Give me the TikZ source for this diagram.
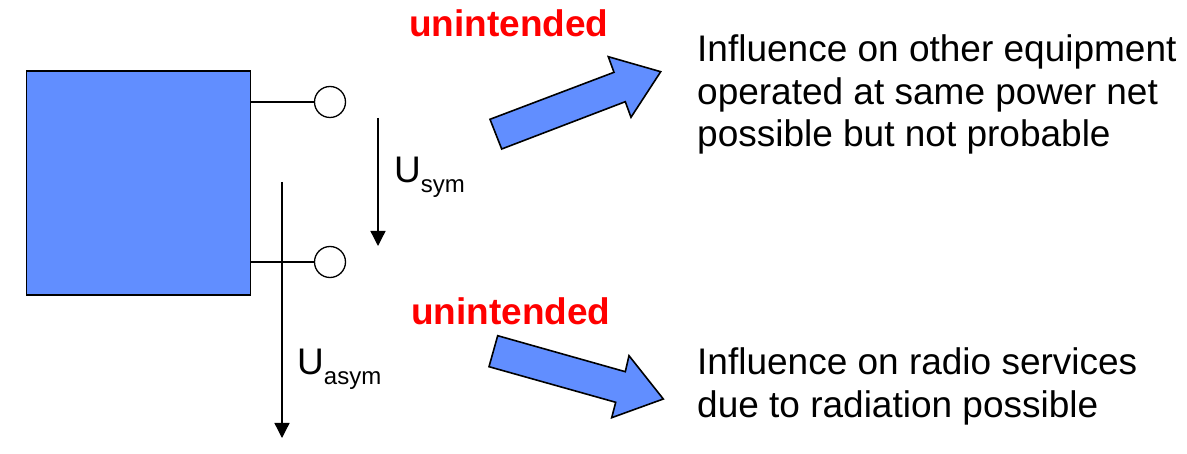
\documentclass[tikz,border=0pt]{standalone}
\usepackage{fontspec}
\setmainfont{Liberation Sans}
\usetikzlibrary{arrows.meta}
\definecolor{boxblue}{RGB}{97,142,255}
\definecolor{warnred}{RGB}{255,0,0}
\tikzset{
  bigtext/.style={inner sep=0pt, anchor=base west, font=\fontsize{37}{42.5}\selectfont},
  redtext/.style={bigtext, text=warnred, font=\fontsize{37}{42.5}\selectfont\bfseries},
  terminal/.style={circle, draw, fill=white, minimum size=31pt, inner sep=0pt, line width=1.3pt},
  wire/.style={line width=1.3pt},
  voltarrow/.style={line width=1.3pt, -{Triangle[length=15pt,width=15pt]}},
  blockarrow/.style={draw, fill=boxblue, line width=1.6pt, line join=miter},
}
\newcommand{\subtxt}[1]{\raisebox{-10pt}{\fontsize{24}{24}\selectfont #1}}
\begin{document}
\begin{tikzpicture}[x=1pt,y=-1pt]
\useasboundingbox (0,0) rectangle (1187,454);
% device box
\node[draw, fill=boxblue, line width=1.8pt, minimum width=224pt, minimum height=224pt, inner sep=0pt] (box) at (138.5,183) {};
% terminals
\node[terminal] (t1) at (330,102) {};
\node[terminal] (t2) at (330,262) {};
\draw[wire] (box.east |- t1) -- (t1.west);
\draw[wire] (box.east |- t2) -- (t2.west);
% voltage arrows
\coordinate (s1) at (378,118);
\coordinate (s2) at (378,246);
\draw[voltarrow] (s1) -- (s2);
\coordinate (a1) at (282,182);
\coordinate (a2) at (282,438);
\draw[voltarrow] (a1) -- (a2);
\node[bigtext] (usym) at (394,183) {U\subtxt{sym}};
\node[bigtext] (uasym) at (297,375) {U\subtxt{asym}};
% block arrows
\path[blockarrow] (490,119.3) -- (614,72.3) -- (608.3,56.7) -- (660.7,71.7) -- (631,117.3) -- (625.3,101.7) -- (501.7,149) -- cycle;
\path[blockarrow] (497.7,335.7) -- (625.3,371.7) -- (629,355.7) -- (663.3,399) -- (611.7,417.7) -- (615.7,402.3) -- (489,366.7) -- cycle;
% labels
\node[redtext] (un1) at (409,37) {unintended};
\node[redtext] (un2) at (411,325) {unintended};
\node[bigtext] (txt1) at (697,61.7) {\begin{tabular}[t]{@{}l@{}}Influence on other equipment\\operated at same power net\\possible but not probable\end{tabular}};
\node[bigtext] (txt2) at (697,375) {\begin{tabular}[t]{@{}l@{}}Influence on radio services\\due to radiation possible\end{tabular}};
\end{tikzpicture}
\end{document}
